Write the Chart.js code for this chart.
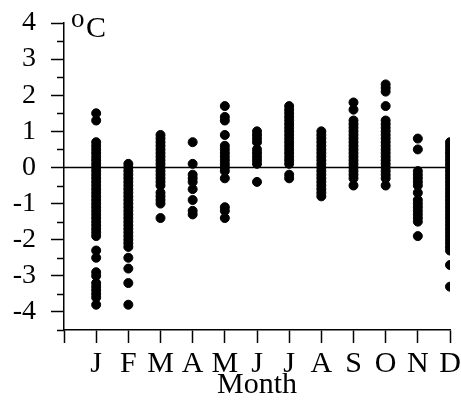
<!DOCTYPE html>
<html>
<head>
<meta charset="utf-8">
<script src="https://cdn.jsdelivr.net/npm/chart.js@4"></script>
<style>
  html, body { margin: 0; padding: 0; background: #fff; }
  #wrap { width: 461px; height: 403px; }
</style>
</head>
<body>
<div id="wrap"><canvas id="chart" width="461" height="403"></canvas></div>
<script>
const months = ['J', 'F', 'M', 'A', 'M', 'J', 'J', 'A', 'S', 'O', 'N', 'D'];

// temperature anomalies (oC), one list per month
const jan = [1.5, 1.3, 0.7, 0.6, 0.5, 0.4, 0.3, 0.2, 0.1, 0.0, -0.1, -0.2, -0.3, -0.4, -0.5, -0.6, -0.7, -0.8, -0.9, -1.0, -1.1, -1.2, -1.3, -1.4, -1.5, -1.6, -1.7, -1.8, -1.9, -2.3, -2.5, -2.9, -3.0, -3.2, -3.3, -3.4, -3.5, -3.6, -3.8];
const feb = [0.1, 0.0, -0.1, -0.2, -0.3, -0.4, -0.5, -0.6, -0.7, -0.8, -0.9, -1.0, -1.1, -1.2, -1.3, -1.4, -1.5, -1.6, -1.7, -1.8, -1.9, -2.0, -2.1, -2.2, -2.5, -2.8, -3.2, -3.8];
const mar = [0.9, 0.8, 0.7, 0.6, 0.5, 0.4, 0.3, 0.2, 0.1, 0.0, -0.1, -0.2, -0.3, -0.4, -0.5, -0.7, -0.8, -0.9, -1.0, -1.4];
const apr = [0.7, 0.1, -0.2, -0.3, -0.4, -0.6, -0.9, -1.2, -1.3];
const may = [1.7, 1.4, 1.3, 0.9, 0.6, 0.5, 0.4, 0.3, 0.2, 0.1, 0.0, -0.1, -0.3, -1.1, -1.2, -1.4];
const jun = [1.0, 0.9, 0.8, 0.7, 0.5, 0.4, 0.3, 0.2, 0.1, -0.4];
const jul = [1.7, 1.6, 1.5, 1.4, 1.3, 1.2, 1.1, 1.0, 0.9, 0.8, 0.7, 0.6, 0.5, 0.4, 0.3, 0.2, 0.1, -0.2, -0.3];
const aug = [1.0, 0.9, 0.8, 0.7, 0.6, 0.5, 0.4, 0.3, 0.2, 0.1, 0.0, -0.1, -0.2, -0.3, -0.4, -0.5, -0.6, -0.7, -0.8];
const sep = [1.8, 1.6, 1.3, 1.2, 1.1, 1.0, 0.9, 0.8, 0.7, 0.6, 0.5, 0.4, 0.3, 0.2, 0.1, 0.0, -0.1, -0.2, -0.3, -0.5];
const oct = [2.3, 2.2, 2.1, 1.7, 1.3, 1.2, 1.1, 1.0, 0.9, 0.8, 0.7, 0.6, 0.5, 0.4, 0.3, 0.2, 0.1, 0.0, -0.1, -0.2, -0.3, -0.5];
const nov = [0.8, 0.5, -0.1, -0.2, -0.3, -0.4, -0.5, -0.7, -0.9, -1.0, -1.1, -1.2, -1.3, -1.4, -1.5, -1.9];
const dec = [0.7, 0.6, 0.5, 0.4, 0.3, 0.2, 0.1, 0.0, -0.1, -0.2, -0.3, -0.4, -0.5, -0.6, -0.7, -0.8, -0.9, -1.0, -1.1, -1.2, -1.3, -1.4, -1.5, -1.6, -1.7, -1.8, -1.9, -2.0, -2.1, -2.2, -2.3, -2.7, -3.3];

const byMonth = [jan, feb, mar, apr, may, jun, jul, aug, sep, oct, nov, dec];
const points = [];
byMonth.forEach((vals, i) => vals.forEach(v => points.push({ x: i + 1, y: v })));

const serif = '"Liberation Serif", "DejaVu Serif", serif';

// short ticks at the half degrees + the oC label
const extras = {
  id: 'extras',
  afterDraw(chart) {
    const ctx = chart.ctx;
    const y = chart.scales.y;
    ctx.save();
    ctx.strokeStyle = '#000';
    ctx.lineWidth = 1.5;
    y.ticks.forEach(t => {
      if (Number.isInteger(t.value)) return;
      const py = Math.round(y.getPixelForValue(t.value)) + 0.5;
      ctx.beginPath();
      ctx.moveTo(y.right - 7, py);
      ctx.lineTo(y.right, py);
      ctx.stroke();
    });
    ctx.fillStyle = '#000';
    ctx.textBaseline = 'alphabetic';
    ctx.font = '27px ' + serif;
    ctx.fillText('o', 71, 27);
    ctx.font = '30px ' + serif;
    ctx.fillText('C', 86, 37);
    ctx.restore();
  }
};

new Chart(document.getElementById('chart'), {
  type: 'scatter',
  data: {
    datasets: [
      {
        data: points,
        backgroundColor: '#000',
        borderColor: '#000',
        borderWidth: 1,
        pointRadius: 4.5
      },
      {
        type: 'line',
        data: [{ x: 0, y: 0 }, { x: 12, y: 0 }],
        borderColor: '#000',
        borderWidth: 1.5,
        pointRadius: 0,
        showLine: true
      }
    ]
  },
  options: {
    responsive: false,
    animation: false,
    layout: { padding: { left: 0, top: 23, right: 11, bottom: 0 } },
    plugins: { legend: { display: false }, tooltip: { enabled: false } },
    scales: {
      x: {
        type: 'linear',
        min: 0,
        max: 12,
        afterFit: s => { s.height = 73; s.paddingLeft = 0; s.paddingRight = 0; },
        ticks: {
          stepSize: 1,
          autoSkip: false,
          maxRotation: 0,
          padding: 3,
          color: '#000',
          font: { family: serif, size: 30 },
          callback: v => (v >= 1 && v <= 12 ? months[v - 1] : '')
        },
        grid: { drawOnChartArea: false, tickLength: 13, tickColor: '#000', tickWidth: 1.5 },
        border: { color: '#000', width: 1.5 },
        title: {
          display: true,
          text: 'Month',
          color: '#000',
          font: { family: serif, size: 30 },
          padding: { top: 0, bottom: 0 }
        }
      },
      y: {
        min: -4.5,
        max: 4,
        afterFit: s => { s.width = 64; s.paddingTop = 0; s.paddingBottom = 0; },
        ticks: {
          stepSize: 0.5,
          autoSkip: false,
          padding: 15,
          color: '#000',
          font: { family: serif, size: 28 },
          callback: v => (Number.isInteger(v) ? String(v) : '')
        },
        grid: {
          drawOnChartArea: false,
          tickLength: 13,
          tickWidth: 1.5,
          tickColor: c => (Number.isInteger(c.tick.value) ? '#000' : 'rgba(0,0,0,0)')
        },
        border: { color: '#000', width: 1.5 }
      }
    }
  },
  plugins: [extras]
});
</script>
</body>
</html>
